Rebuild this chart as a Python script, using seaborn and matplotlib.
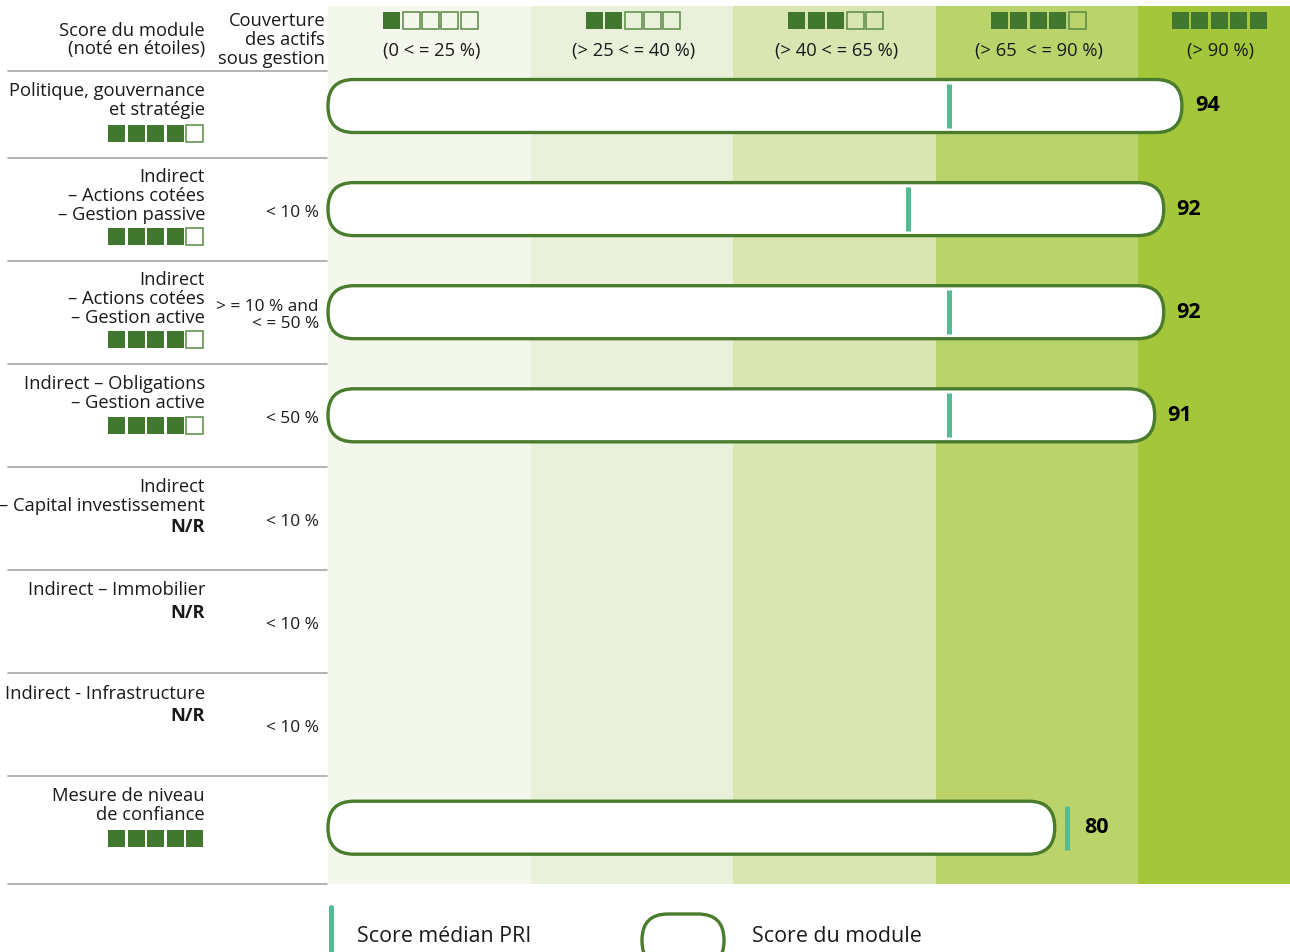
import matplotlib
matplotlib.use("Agg")
import matplotlib.pyplot as plt
from matplotlib.patches import FancyBboxPatch, Rectangle
from matplotlib.lines import Line2D
from matplotlib.transforms import Affine2D
import numpy as np
import pandas as pd
import seaborn as sns

# ---------------------------------------------------------------- data
modules = [
    "Politique, gouvernance\net stratégie",
    "Indirect\n– Actions cotées\n– Gestion passive",
    "Indirect\n– Actions cotées\n– Gestion active",
    "Indirect – Obligations\n– Gestion active",
    "Indirect\n– Capital investissement",
    "Indirect – Immobilier",
    "Indirect - Infrastructure",
    "Mesure de niveau\nde confiance",
]
module_stars = [4, 4, 4, 4, None, None, None, 5]
coverage = ["", "< 10 %", "> = 10 % and\n< = 50 %", "< 50 %",
            "< 10 %", "< 10 %", "< 10 %", ""]
module_scores = [94, 92, 92, 91, np.nan, np.nan, np.nan, 80]
median_scores = [68.4, 63.8, 68.4, 68.4, np.nan, np.nan, np.nan, 81.3]
band_labels = ["(0 < = 25 %)", "(> 25 < = 40 %)", "(> 40 < = 65 %)",
               "(> 65  < = 90 %)", "(> 90 %)"]
band_stars = [1, 2, 3, 4, 5]

# ---------------------------------------------------------------- layout / style
W, H, DPI = 1290, 953, 100
BAND_EDGES = [0, 22.3, 44.6, 66.9, 89.2, 105.9]
BAND_COLORS = ["#f4f8ec", "#eaf1da", "#d9e6b2", "#bad46b", "#a3c63a"]
DARK = "#41772e"
OUTLINE = "#4a7c2d"
MEDIAN = "#55bb92"
RULE = "#a6a6a6"
INK = "#1a1a1a"
FS = 13.2
LS = 1.07
PITCH = 18.6

sns.set_theme(style="white")
plt.rcParams["font.family"] = ["Open Sans", "DejaVu Sans"]

fig = plt.figure(figsize=(W / DPI, H / DPI), dpi=DPI)
fig.patch.set_facecolor("white")
AX_L, AX_T, AX_R, AX_B = 328, 7, 1290, 885
ax = fig.add_axes([AX_L / W, 1 - AX_B / H, (AX_R - AX_L) / W, (AX_B - AX_T) / H])

# pixel coordinates measured from the top-left corner of the figure
tpx = Affine2D().scale(1, -1).translate(0, H).scale(1 / W, 1 / H) + fig.transFigure

df = pd.DataFrame({"module": modules, "score": module_scores})
sns.barplot(data=df.dropna(subset=["score"]), x="score", y="module",
            order=modules, orient="h", width=0.514, color="white",
            saturation=1, errorbar=None, ax=ax)
score_bars = [p for p in ax.patches
              if isinstance(p, Rectangle) and np.isfinite(p.get_width())
              and p.get_width() > 0]

ax.set_xlim(BAND_EDGES[0], BAND_EDGES[-1])
ax.set_ylim(7.546, -0.970)
ax.set_xticks([])
ax.set_yticks([])
ax.set_xlabel("")
ax.set_ylabel("")
for sp in ax.spines.values():
    sp.set_visible(False)

for i, c in enumerate(BAND_COLORS):
    ax.axvspan(BAND_EDGES[i], BAND_EDGES[i + 1], color=c, lw=0, zorder=0)

# scale factors (pixels per data unit)
x0d, y0d = ax.transData.transform((0, 0))
x1d, y1d = ax.transData.transform((1, 1))
sx = x1d - x0d
sy = abs(y1d - y0d)


def px_x(xd):
    return ax.transData.transform((xd, 0))[0]


def px_y(yd):
    return H - ax.transData.transform((0, yd))[1]


# rounded module-score bars (capsules)
radius = 26
for bar in score_bars:
    bx, by, bw, bh = bar.get_x(), bar.get_y(), bar.get_width(), bar.get_height()
    bar.remove()
    ax.add_patch(FancyBboxPatch(
        (bx, by), bw, bh,
        boxstyle=f"round,pad=0,rounding_size={radius / sx}",
        mutation_aspect=sx / sy, fc="white", ec=OUTLINE, lw=2.4,
        zorder=3, clip_on=False))

pos = np.arange(len(modules))
med = np.array(median_scores, dtype=float)
ok = np.isfinite(med)
ax.vlines(med[ok], pos[ok] - 0.213, pos[ok] + 0.213, colors=MEDIAN,
          lw=3.6, zorder=4)

for i, (s, m) in enumerate(zip(module_scores, median_scores)):
    if not np.isfinite(s):
        continue
    xl = max(s + 13 / sx, m + 18 / sx)
    ax.text(xl, i - 0.01, f"{s:.0f}", ha="left", va="center", fontsize=15.5,
            fontweight="bold", color="black", zorder=5)


def squares(x_right, y_top, filled, total=5, empty_fc="none", size=17, pitch=19.4):
    for k in range(total):
        x = x_right - size - (total - 1 - k) * pitch
        full = k < filled
        fig.add_artist(Rectangle(
            (x, y_top), size, size, transform=tpx,
            fc=DARK if full else empty_fc, ec=DARK if full else "#5a8a44",
            lw=0 if full else 1.1))


# column headers (bands)
for i, (lab, n) in enumerate(zip(band_labels, band_stars)):
    xc = px_x((BAND_EDGES[i] + BAND_EDGES[i + 1]) / 2)
    if i == len(band_labels) - 1:
        xc += 4
    squares(xc + 48.5, 13, n)
    fig.text(xc + 2, 51, lab, transform=tpx, ha="center", va="center",
             fontsize=FS, color=INK)

# left header
fig.text(205, 40, "Score du module\n(noté en étoiles)", transform=tpx,
         ha="right", va="center", fontsize=FS, color=INK, linespacing=LS)
fig.text(325, 40, "Couverture\ndes actifs\nsous gestion", transform=tpx,
         ha="right", va="center", fontsize=FS, color=INK, linespacing=LS)

# horizontal rules on the left
rules = [72] + [px_y(i + 0.5) for i in range(len(modules) - 1)] + [AX_B]
for yr in rules:
    fig.add_artist(Line2D([8, 327], [yr, yr], transform=tpx, color=RULE, lw=1.2))

# row labels (baseline of the last line)
for i, lab in enumerate(modules):
    top = rules[i]
    n = lab.count("\n") + 1
    fig.text(205, top + 24.5 + (n - 1) * PITCH, lab, transform=tpx,
             ha="right", va="baseline", fontsize=FS, color=INK, linespacing=LS)
    if module_stars[i] is not None:
        squares(203, top + 19.5 + 17 * n, module_stars[i], empty_fc="white")
    else:
        fig.text(205, top + 25 + 17 * n, "N/R", transform=tpx,
                 ha="right", va="center", fontsize=FS, fontweight="bold",
                 color=INK)
    if coverage[i]:
        fig.text(319, px_y(i) + 2.5, coverage[i], transform=tpx, ha="right",
                 va="center", fontsize=12.4, color=INK, linespacing=1.12)

# legend
fig.add_artist(Line2D([331, 331], [908, 960], transform=tpx, color=MEDIAN, lw=3.6))
fig.text(357, 937, "Score médian PRI", transform=tpx, ha="left", va="center",
         fontsize=15.4, color=INK)
fig.add_artist(FancyBboxPatch((642, 915), 82, 53,
                              boxstyle="round,pad=0,rounding_size=26",
                              transform=tpx, fc="white", ec=OUTLINE, lw=2.4))
fig.text(752, 937, "Score du module", transform=tpx, ha="left", va="center",
         fontsize=15.4, color=INK)

fig.savefig("out.png", dpi=DPI)
